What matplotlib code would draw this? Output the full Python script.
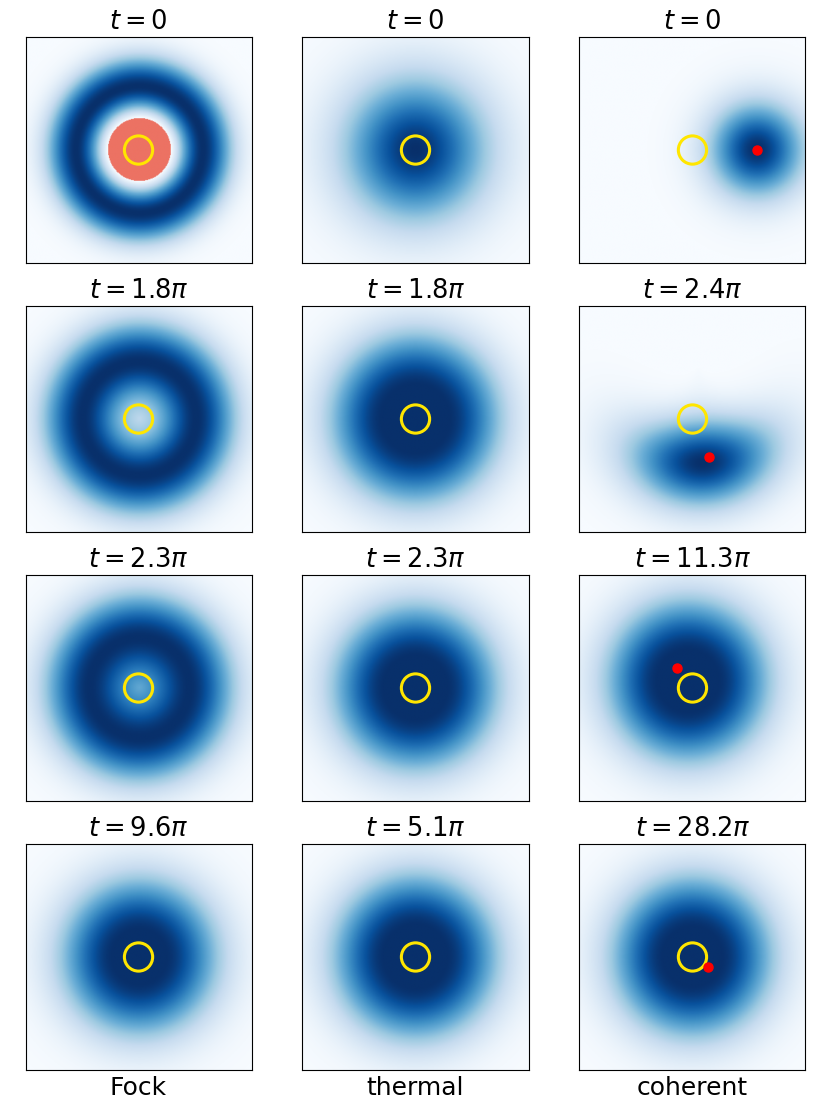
import numpy as np
import matplotlib
matplotlib.use("Agg")
import matplotlib.pyplot as plt
from matplotlib.patches import Circle

# column labels and title times (in units of pi)
columnas = ["Fock", "thermal", "coherent"]
tiempos = [
    ["0", "0", "0"],
    ["1.8", "1.8", "2.4"],
    ["2.3", "2.3", "11.3"],
    ["9.6", "5.1", "28.2"],
]

# blob shape (axes span -1..1)
# centro x, centro y, radio del anillo, ancho interior, ancho exterior, nivel central
centro_x = [[0, 0, 0.57], [0, 0, 0.05], [0, 0, -0.04], [0, 0, 0.0]]
centro_y = [[0, 0, 0.0], [0, 0, 0.45], [0, 0, 0.06], [0, 0, 0.0]]
radio_anillo = [[0.56, 0.0, 0.0], [0.50, 0.28, 0.84], [0.44, 0.26, 0.25], [0.22, 0.26, 0.24]]
ancho_int = [[0.19, 0.3, 0.2], [0.22, 0.3, 0.27], [0.24, 0.3, 0.3], [0.3, 0.3, 0.3]]
ancho_ext = [[0.18, 0.44, 0.29], [0.25, 0.34, 0.27], [0.28, 0.34, 0.34], [0.34, 0.34, 0.34]]
nivel_centro = [[-0.5, 1.0, 1.0], [0.22, 1.0, 0.0], [0.42, 1.0, 1.0], [1.0, 1.0, 1.0]]
# angular extent (only the banana shaped coherent panel), degrees
angulo = [[None, None, None], [None, None, -87], [None, None, None], [None, None, None]]
ancho_angulo = [[None, None, None], [None, None, 31], [None, None, None], [None, None, None]]

# red dots in the coherent column
punto_x = [0.57, 0.15, -0.14, 0.14]
punto_y = [0.0, -0.34, 0.175, -0.09]

radio_circulo = 0.125

fig, axs = plt.subplots(4, 3, figsize=(8.31, 11.08), dpi=100)
plt.subplots_adjust(left=0.0301, right=0.9699, top=0.9666, bottom=0.0343,
                    wspace=0.22, hspace=0.19)

n = 301
xs = np.linspace(-1, 1, n)
X, Y = np.meshgrid(xs, xs)

cmap = plt.get_cmap("Blues").copy()
cmap.set_under("#ec7263")

for i in range(4):
    for j in range(3):
        ax = axs[i, j]
        dx = X - centro_x[i][j]
        dy = Y - centro_y[i][j]
        r = np.hypot(dx, dy)
        r0 = radio_anillo[i][j]
        c = nivel_centro[i][j]
        d = r - r0
        dentro = c + (1 - c) * np.exp(-d**2 / (2 * ancho_int[i][j]**2))
        fuera = np.exp(-d**2 / (2 * ancho_ext[i][j]**2))
        W = np.where(d < 0, dentro, fuera)
        if angulo[i][j] is not None:
            th = np.degrees(np.arctan2(dy, dx)) - angulo[i][j]
            th = (th + 180) % 360 - 180
            W = W * np.exp(-th**2 / (2 * ancho_angulo[i][j]**2))
        ax.imshow(W, cmap=cmap, vmin=0, vmax=1, origin="lower",
                  extent=[-1, 1, -1, 1], interpolation="bilinear")
        ax.add_patch(Circle((0, 0), radio_circulo, fill=False,
                            edgecolor="#ffe600", linewidth=2.2))
        if j == 2:
            ax.plot(punto_x[i], punto_y[i], "o", color="red", markersize=6.5)
        ax.set_xlim(-1, 1)
        ax.set_ylim(-1, 1)
        ax.set_xticks([])
        ax.set_yticks([])
        ax.set_title(r"$t = 0$" if tiempos[i][j] == "0" else r"$t = %s\pi$" % tiempos[i][j],
                     fontsize=18.5)
        if i == 3:
            ax.set_xlabel(columnas[j], fontsize=18)

plt.savefig("out.png", dpi=100)
